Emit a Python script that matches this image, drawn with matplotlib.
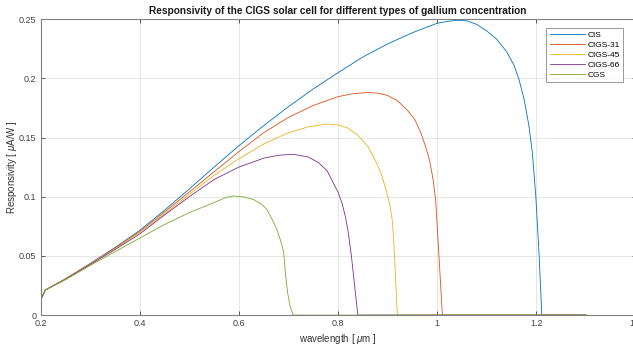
import matplotlib
matplotlib.use("Agg")
import matplotlib.pyplot as plt
from matplotlib.ticker import FuncFormatter

plt.rcParams['font.family'] = ['Liberation Sans', 'DejaVu Sans']
plt.rcParams['mathtext.fontset'] = 'custom'
plt.rcParams['mathtext.it'] = 'Liberation Sans:italic'
plt.rcParams['mathtext.rm'] = 'Liberation Sans'

labels = ['CIS', 'CIGS-31', 'CIGS-45', 'CIGS-66', 'CGS']
colors = ['#0072BD', '#D95319', '#EDB120', '#7E2F8E', '#77AC30']

wl_cis = [0.2, 0.21, 0.25, 0.3, 0.35, 0.4, 0.45, 0.5, 0.55, 0.6, 0.65, 0.7, 0.75, 0.8, 0.85,
          0.9, 0.95, 1.0, 1.02, 1.04, 1.06, 1.08, 1.1, 1.12, 1.14, 1.155, 1.165, 1.175, 1.185,
          1.192, 1.199, 1.2057, 1.211, 1.3]
r_cis = [0.0128, 0.0212, 0.0305, 0.0435, 0.057, 0.0715, 0.0885, 0.1065, 0.125, 0.143, 0.160,
         0.176, 0.191, 0.2047, 0.218, 0.229, 0.2385, 0.2465, 0.248, 0.249, 0.2485, 0.2455, 0.240,
         0.233, 0.2225, 0.211, 0.199, 0.183, 0.160, 0.137, 0.100, 0.05, 0.0, 0.0]

wl_31 = [0.2, 0.21, 0.25, 0.3, 0.35, 0.4, 0.45, 0.5, 0.55, 0.6, 0.65, 0.7, 0.75, 0.8, 0.83,
         0.86, 0.88, 0.9, 0.92, 0.94, 0.955, 0.967, 0.977, 0.985, 0.992, 0.997, 1.0036, 1.0105,
         1.3]
r_31 = [0.0128, 0.0212, 0.0305, 0.0433, 0.0565, 0.0705, 0.087, 0.104, 0.121, 0.138, 0.154,
        0.167, 0.177, 0.1845, 0.187, 0.188, 0.1875, 0.1855, 0.181, 0.173, 0.165, 0.154, 0.142,
        0.130, 0.114, 0.097, 0.05, 0.0, 0.0]

wl_45 = [0.2, 0.21, 0.25, 0.3, 0.35, 0.4, 0.45, 0.5, 0.55, 0.6, 0.65, 0.7, 0.74, 0.78, 0.8,
         0.82, 0.84, 0.86, 0.875, 0.8875, 0.8975, 0.905, 0.9095, 0.912, 0.914, 0.9196, 1.3]
r_45 = [0.0128, 0.0212, 0.0305, 0.043, 0.056, 0.0698, 0.0855, 0.102, 0.118, 0.132, 0.1445,
        0.154, 0.159, 0.1614, 0.1605, 0.158, 0.152, 0.1425, 0.131, 0.119, 0.105, 0.092, 0.080,
        0.065, 0.05, 0.0, 0.0]

wl_66 = [0.2, 0.21, 0.25, 0.3, 0.35, 0.4, 0.45, 0.5, 0.55, 0.6, 0.65, 0.68, 0.71, 0.74, 0.76,
         0.778, 0.79, 0.8, 0.8085, 0.815, 0.8206, 0.827, 0.84, 1.3]
r_66 = [0.0128, 0.0212, 0.0303, 0.0427, 0.0553, 0.0685, 0.0845, 0.100, 0.1145, 0.125, 0.1325,
        0.135, 0.1358, 0.1335, 0.129, 0.122, 0.112, 0.104, 0.094, 0.083, 0.070, 0.05, 0.0, 0.0]

wl_cgs = [0.2, 0.21, 0.25, 0.3, 0.35, 0.4, 0.45, 0.5, 0.55, 0.575, 0.59, 0.61, 0.63, 0.645,
          0.657, 0.667, 0.677, 0.685, 0.6905, 0.694, 0.6986, 0.703, 0.7095, 1.3]
r_cgs = [0.0128, 0.0212, 0.0298, 0.0418, 0.0535, 0.065, 0.0765, 0.0865, 0.095, 0.0995, 0.1006,
         0.0998, 0.0975, 0.094, 0.089, 0.081, 0.072, 0.062, 0.053, 0.035, 0.0184, 0.008, 0.0,
         0.0]

series = [(wl_cis, r_cis), (wl_31, r_31), (wl_45, r_45), (wl_66, r_66), (wl_cgs, r_cgs)]

fig = plt.figure(figsize=(6.33, 3.48), dpi=100)
ax = fig.add_axes([40.5 / 633, (348 - 315.1) / 348, 595 / 633, 296 / 348])

for (x, y), lab, c in zip(series, labels, colors):
    ax.plot(x, y, color=c, lw=0.6, label=lab)

ax.set_xlim(0.2, 1.4)
ax.set_ylim(0, 0.25)
ax.set_xticks([0.2, 0.4, 0.6, 0.8, 1.0, 1.2, 1.4])
ax.set_yticks([0, 0.05, 0.1, 0.15, 0.2, 0.25])
fmt = FuncFormatter(lambda v, p: '%g' % round(v, 3))
ax.xaxis.set_major_formatter(fmt)
ax.yaxis.set_major_formatter(fmt)
ax.grid(True, color='#e6e6e6', lw=0.7)
ax.set_axisbelow(True)
ax.tick_params(direction='in', length=3, width=0.6, colors='#404040', labelsize=6.5,
               top=True, right=True, pad=3)
for s in ax.spines.values():
    s.set_color('#808080')
    s.set_linewidth(0.8)

ax.set_title('Responsivity of the CIGS solar cell for different types of gallium concentration',
             fontsize=7.3, fontweight='bold', pad=4, color='#1a1a1a')
ax.set_xlabel('wavelength [ $\\mu$m ]', fontsize=7, color='#333333', labelpad=3)
ax.set_ylabel('Responsivity [ $\\mu$A/W ]', fontsize=7, color='#333333')
ax.yaxis.set_label_coords(-0.036, 0.5)

leg = ax.legend(loc='upper right', bbox_to_anchor=(0.979, 0.970), borderaxespad=0,
                fontsize=6, frameon=True, fancybox=False, handlelength=4.2,
                handletextpad=0.3, labelspacing=0.25, borderpad=0.4)
leg.get_frame().set_edgecolor('#808080')
leg.get_frame().set_linewidth(0.7)

fig.savefig('out.png', dpi=100)
